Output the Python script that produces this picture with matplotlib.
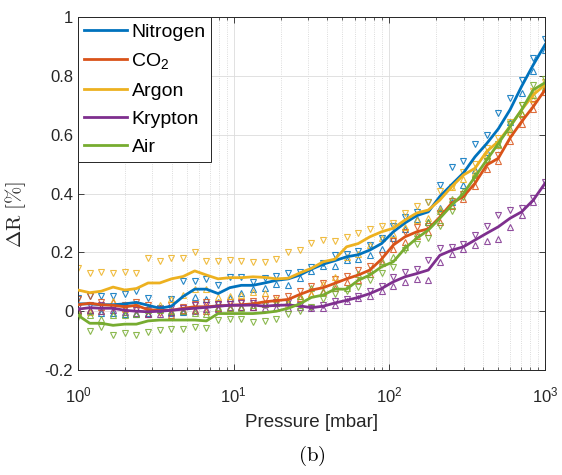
import matplotlib
matplotlib.use('Agg')
import matplotlib.pyplot as plt
from matplotlib.ticker import LogLocator, FixedLocator

plt.rcParams['font.family'] = ['Liberation Sans', 'DejaVu Sans']
plt.rcParams['mathtext.fontset'] = 'custom'
plt.rcParams['mathtext.rm'] = 'Liberation Sans'
plt.rcParams['mathtext.it'] = 'Liberation Sans:italic'
plt.rcParams['mathtext.bf'] = 'Liberation Sans:bold'

# pressure steps [mbar]
pressure = [1.0, 1.19, 1.41, 1.68, 2.0, 2.37, 2.82, 3.35, 3.98, 4.73, 5.62, 6.68, 7.94, 9.44,
            11.2, 13.3, 15.8, 18.8, 22.4, 26.6, 31.6, 37.6, 44.7, 53.1, 63.1, 75.0, 89.1,
            106, 126, 150, 178, 211, 251, 299, 355, 422, 501, 596, 708, 841, 1000]

gases = ['Nitrogen', 'CO$_2$', 'Argon', 'Krypton', 'Air']
colors = ['#0072BD', '#D95319', '#EDB120', '#7E2F8E', '#77AC30']

# mean curves
nitrogen = [0.025, 0.025, 0.022, 0.022, 0.025, 0.030, 0.020, 0.010, 0.017, 0.050, 0.075, 0.075, 0.060, 0.080,
            0.088, 0.088, 0.096, 0.105, 0.110, 0.123, 0.143, 0.160, 0.172, 0.185, 0.192, 0.208, 0.230,
            0.270, 0.300, 0.325, 0.338, 0.390, 0.430, 0.470, 0.525, 0.570, 0.620, 0.685, 0.765, 0.838, 0.906]
co2 = [0.022, 0.027, 0.022, 0.020, 0.015, 0.020, 0.005, 0.003, 0.003, 0.010, 0.015, 0.015, 0.018, 0.020,
       0.022, 0.025, 0.032, 0.036, 0.040, 0.057, 0.072, 0.080, 0.095, 0.110, 0.123, 0.140, 0.177,
       0.225, 0.253, 0.270, 0.280, 0.320, 0.367, 0.390, 0.435, 0.497, 0.520, 0.589, 0.645, 0.696, 0.753]
argon = [0.072, 0.063, 0.068, 0.082, 0.072, 0.077, 0.096, 0.096, 0.110, 0.118, 0.137, 0.123, 0.110, 0.114,
         0.114, 0.117, 0.115, 0.110, 0.112, 0.130, 0.146, 0.168, 0.177, 0.219, 0.230, 0.253, 0.270,
         0.282, 0.310, 0.334, 0.344, 0.378, 0.423, 0.463, 0.486, 0.543, 0.577, 0.628, 0.685, 0.736, 0.770]
krypton = [0.007, 0.012, 0.010, 0.010, 0.003, 0.000, -0.002, 0.000, 0.003, 0.007, 0.010, 0.013, 0.017, 0.020,
           0.020, 0.021, 0.017, 0.020, 0.021, 0.018, 0.012, 0.017, 0.028, 0.037, 0.047, 0.060, 0.077,
           0.100, 0.117, 0.128, 0.140, 0.190, 0.207, 0.219, 0.242, 0.265, 0.287, 0.316, 0.338, 0.378, 0.435]
air = [-0.014, -0.041, -0.041, -0.048, -0.044, -0.044, -0.033, -0.030, -0.030, -0.030, -0.030, -0.033, -0.008, -0.008,
       -0.008, -0.008, -0.005, 0.000, 0.010, 0.025, 0.047, 0.055, 0.075, 0.075, 0.105, 0.123, 0.151,
       0.168, 0.214, 0.248, 0.276, 0.316, 0.360, 0.400, 0.457, 0.514, 0.570, 0.628, 0.685, 0.753, 0.777]

# sweep down (▽ markers)
nitrogen_down = [0.045, 0.050, 0.050, 0.050, 0.058, 0.070, 0.046, 0.012, 0.040, 0.102, 0.102, 0.109, 0.089, 0.115,
                 0.115, 0.100, 0.112, 0.118, 0.130, 0.133, 0.150, 0.165, 0.190, 0.195, 0.205, 0.225, 0.250,
                 0.290, 0.320, 0.338, 0.372, 0.430, 0.490, 0.510, 0.570, 0.600, 0.675, 0.725, 0.787, 0.860, 0.925]
co2_down = [0.040, 0.050, 0.030, 0.010, 0.020, 0.030, 0.020, -0.005, 0.020, 0.015, 0.025, 0.030, 0.025, 0.030,
            0.030, 0.035, 0.040, 0.045, 0.050, 0.070, 0.085, 0.095, 0.110, 0.120, 0.140, 0.155, 0.190,
            0.240, 0.270, 0.285, 0.290, 0.335, 0.375, 0.400, 0.445, 0.510, 0.530, 0.600, 0.655, 0.705, 0.760]
argon_down = [0.146, 0.130, 0.135, 0.130, 0.135, 0.130, 0.180, 0.170, 0.180, 0.180, 0.200, 0.170, 0.172, 0.175,
              0.172, 0.168, 0.168, 0.177, 0.200, 0.207, 0.233, 0.243, 0.238, 0.253, 0.265, 0.280, 0.290,
              0.300, 0.335, 0.359, 0.372, 0.410, 0.423, 0.475, 0.500, 0.555, 0.590, 0.645, 0.700, 0.750, 0.780]
krypton_down = [0.015, 0.020, 0.020, 0.015, 0.010, 0.005, 0.005, 0.008, 0.010, 0.012, 0.020, 0.020, 0.025, 0.025,
                0.027, 0.028, 0.022, 0.030, 0.030, 0.022, 0.012, 0.022, 0.035, 0.040, 0.050, 0.070, 0.085,
                0.115, 0.135, 0.145, 0.174, 0.214, 0.220, 0.228, 0.260, 0.290, 0.327, 0.344, 0.350, 0.385, 0.440]
air_down = [-0.020, -0.068, -0.055, -0.082, -0.075, -0.080, -0.070, -0.065, -0.062, -0.060, -0.055, -0.058, -0.030, -0.028,
            -0.028, -0.038, -0.033, -0.027, -0.010, 0.000, 0.014, 0.040, 0.060, 0.070, 0.083, 0.105, 0.130,
            0.151, 0.208, 0.230, 0.250, 0.290, 0.340, 0.390, 0.450, 0.510, 0.570, 0.635, 0.700, 0.770, 0.790]

# sweep up (△ markers)
nitrogen_up = [0.005, 0.000, -0.006, -0.006, -0.008, -0.010, -0.006, 0.008, -0.006, -0.002, 0.048, 0.041, 0.031, 0.045,
               0.061, 0.076, 0.080, 0.092, 0.090, 0.113, 0.136, 0.155, 0.154, 0.175, 0.179, 0.191, 0.210,
               0.250, 0.280, 0.312, 0.304, 0.350, 0.370, 0.430, 0.480, 0.540, 0.565, 0.645, 0.743, 0.816, 0.887]
co2_up = [0.004, 0.004, 0.014, 0.030, 0.010, 0.010, -0.010, 0.011, -0.014, 0.005, 0.005, 0.000, 0.011, 0.010,
          0.014, 0.015, 0.024, 0.027, 0.030, 0.044, 0.059, 0.065, 0.080, 0.100, 0.106, 0.125, 0.164,
          0.210, 0.236, 0.255, 0.270, 0.305, 0.359, 0.380, 0.425, 0.484, 0.510, 0.578, 0.635, 0.687, 0.746]
argon_up = [-0.002, -0.004, 0.001, 0.034, 0.009, 0.024, 0.012, 0.022, 0.040, 0.056, 0.074, 0.076, 0.048, 0.053,
            0.056, 0.066, 0.062, 0.043, 0.024, 0.053, 0.059, 0.093, 0.116, 0.185, 0.195, 0.226, 0.250,
            0.264, 0.285, 0.309, 0.316, 0.346, 0.423, 0.451, 0.472, 0.531, 0.564, 0.611, 0.670, 0.722, 0.760]
krypton_up = [-0.001, 0.004, 0.000, 0.005, -0.004, -0.005, -0.009, -0.008, -0.004, 0.002, 0.000, 0.006, 0.009, 0.015,
              0.013, 0.014, 0.012, 0.010, 0.012, 0.014, 0.012, 0.012, 0.021, 0.034, 0.044, 0.050, 0.069,
              0.085, 0.099, 0.111, 0.106, 0.166, 0.194, 0.210, 0.224, 0.240, 0.247, 0.288, 0.326, 0.371, 0.430]
air_up = [-0.008, -0.014, -0.027, -0.014, -0.013, -0.008, 0.004, 0.005, 0.002, 0.000, -0.005, -0.008, 0.014, 0.012,
          0.012, 0.022, 0.023, 0.027, 0.030, 0.050, 0.080, 0.070, 0.090, 0.080, 0.127, 0.141, 0.172,
          0.185, 0.220, 0.266, 0.302, 0.342, 0.380, 0.410, 0.464, 0.518, 0.570, 0.621, 0.670, 0.736, 0.764]

yticks = [-0.2, 0, 0.2, 0.4, 0.6, 0.8, 1]
ytick_labels = ['-0.2', '0', '0.2', '0.4', '0.6', '0.8', '1']

means = [nitrogen, co2, argon, krypton, air]
downs = [nitrogen_down, co2_down, argon_down, krypton_down, air_down]
ups = [nitrogen_up, co2_up, argon_up, krypton_up, air_up]

fig = plt.figure(figsize=(5.62, 4.75), dpi=100)
ax = fig.add_axes([0.1388, 0.221, 0.831, 0.743])

for i in range(len(gases)):
    ax.plot(pressure, downs[i], linestyle='none', marker='v', markersize=5, fillstyle='none',
            markeredgewidth=0.8, color=colors[i], alpha=0.85, zorder=2)
    ax.plot(pressure, ups[i], linestyle='none', marker='^', markersize=5, fillstyle='none',
            markeredgewidth=0.8, color=colors[i], alpha=0.85, zorder=2)
lines = []
for i in range(len(gases)):
    l, = ax.plot(pressure, means[i], color=colors[i], linewidth=2.0, label=gases[i], zorder=3)
    lines.append(l)

ax.set_xscale('log')
ax.set_xlim(1, 1000)
ax.set_ylim(-0.2, 1)
ax.yaxis.set_major_locator(FixedLocator(yticks))
ax.set_yticklabels(ytick_labels)
ax.xaxis.set_minor_locator(LogLocator(base=10, subs=range(2, 10), numticks=20))

ax.grid(True, which='major', color='#dcdcdc', linewidth=0.6, linestyle='-')
ax.grid(True, which='minor', axis='x', color='#d0d0d0', linewidth=0.6, linestyle=':')
ax.set_axisbelow(True)

ax.tick_params(which='both', direction='in', top=True, right=True, colors='#262626', labelsize=12)
ax.tick_params(which='major', length=4.5, width=0.6)
ax.tick_params(which='minor', length=2.5, width=0.5)
ax.tick_params(axis='x', which='major', pad=11)
for s in ax.spines.values():
    s.set_color('#262626')
    s.set_linewidth(0.7)

ax.set_xlabel('Pressure [mbar]', fontsize=13.5, color='#262626', labelpad=6)
ax.set_ylabel(r'$\Delta\mathrm{R}\ [\%]$', fontsize=15, color='#262626', math_fontfamily='cm')
ax.yaxis.set_label_coords(-0.107, 0.44)

leg = ax.legend(handles=lines, loc='upper left', fontsize=14, frameon=True, fancybox=False,
                borderaxespad=0, handlelength=2.2, handletextpad=0.25, borderpad=0.3,
                labelspacing=0.55)
leg.get_frame().set_edgecolor('#262626')
leg.get_frame().set_linewidth(0.7)
leg.get_frame().set_alpha(1)

fig.text(0.555, 0.04, r'$\mathrm{(b)}$', fontsize=15, ha='center', va='center', math_fontfamily='cm')

fig.savefig('out.png', dpi=100)
